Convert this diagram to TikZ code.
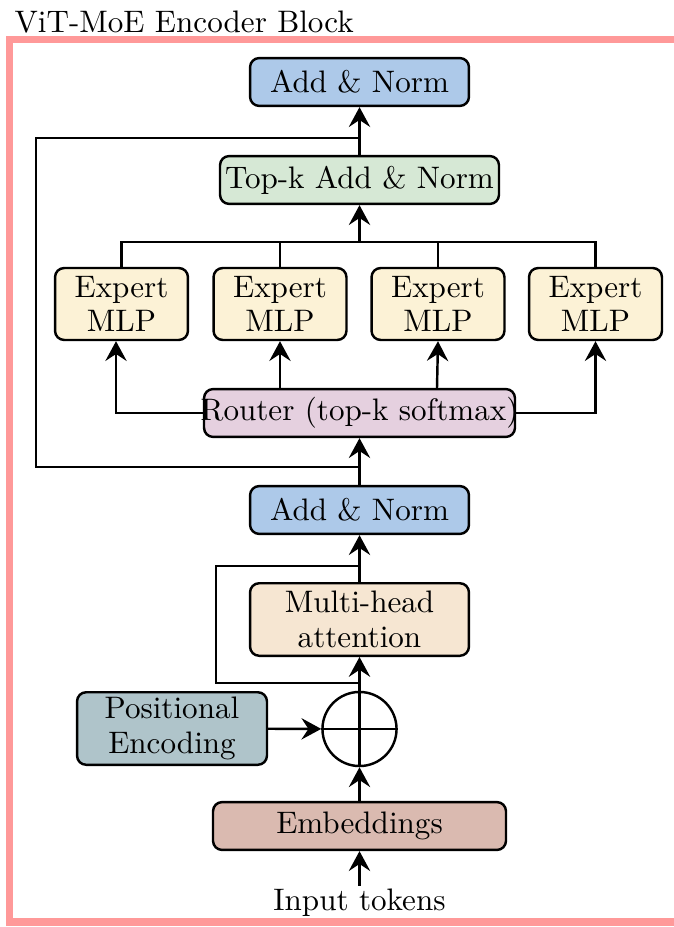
\documentclass[tikz,border=0pt]{standalone}
\usetikzlibrary{arrows.meta,calc}
\definecolor{normblue}{HTML}{ADC9E9}
\definecolor{topkgreen}{HTML}{D6E8D5}
\definecolor{expertyellow}{HTML}{FCF2D6}
\definecolor{routerpink}{HTML}{E5D0DF}
\definecolor{attnbeige}{HTML}{F6E6D2}
\definecolor{posteal}{HTML}{AFC4CA}
\definecolor{embedrose}{HTML}{DABAB0}
\definecolor{framepink}{HTML}{FF9999}
\begin{document}
\begin{tikzpicture}[x=0.328pt,y=-0.328pt,
  block/.style={draw=black,thick,rounded corners=3pt,align=center,inner sep=1pt,
    font=\fontsize{10.2}{11.3}\selectfont},
  onerow/.style={block,minimum height=15.7pt},
  tworow/.style={block,minimum height=23.8pt},
  link/.style={thick,draw=black},
  arr/.style={link,-{Stealth[length=6.5pt,width=7pt,inset=2.3pt]}}]
\useasboundingbox (0,0) rectangle (673,927);
% outer frame and its title
\draw[framepink,line width=2.6pt] (9.5,39.5) rectangle (690,922);
\node[anchor=south west,inner sep=0pt,font=\fontsize{10.2}{12}\selectfont] (title) at (14,34) {ViT-MoE Encoder Block};
% blocks
\node[onerow,fill=normblue,minimum width=71.8pt] (an2) at (359.5,82) {Add \& Norm};
\node[onerow,fill=topkgreen,minimum width=91.5pt] (topk) at (359.5,180) {Top-k Add \& Norm};
\node[tworow,fill=expertyellow,minimum width=43.6pt,minimum height=23.6pt] (e1) at (121.5,304) {Expert\\MLP};
\node[tworow,fill=expertyellow,minimum width=43.6pt,minimum height=23.6pt] (e2) at (280,304) {Expert\\MLP};
\node[tworow,fill=expertyellow,minimum width=43.6pt,minimum height=23.6pt] (e3) at (438,304) {Expert\\MLP};
\node[tworow,fill=expertyellow,minimum width=43.6pt,minimum height=23.6pt] (e4) at (595.5,304) {Expert\\MLP};
\node[onerow,fill=routerpink,inner xsep=0pt] (router) at (359.5,413) {\makebox[102pt][c]{Router (top-k softmax)}};
\node[onerow,fill=normblue,minimum width=71.8pt] (an1) at (359.5,510) {Add \& Norm};
\node[tworow,fill=attnbeige,minimum width=71.8pt] (mha) at (359.5,619.5) {Multi-head\\attention};
\node[tworow,fill=posteal,minimum width=62.3pt] (pos) at (172,728.5) {Positional\\Encoding};
\node[circle,draw=black,thick,minimum size=24.3pt,inner sep=0pt] (sum) at (359.5,729) {};
\draw[link] (sum.north) -- (sum.south) (sum.west) -- (sum.east);
\node[onerow,fill=embedrose,minimum width=96.1pt] (emb) at (359.5,826) {Embeddings};
\node[inner sep=1pt,font=\fontsize{10.2}{12}\selectfont] (inp) at (359.5,903) {Input tokens};
% junction points of the residual paths
\coordinate (j1) at (359.5,683);
\coordinate (j2) at (359.5,566);
\coordinate (j3) at (359.5,467);
\coordinate (j4) at (359.5,138);
\coordinate (j5) at (359.5,242);
% main flow
\draw[arr] (inp) -- (emb);
\draw[arr] (emb) -- (sum);
\draw[arr] (pos) -- (sum);
\draw[arr] (sum) -- (mha);
\draw[arr] (mha) -- (an1);
\draw[arr] (an1) -- (router);
\draw[arr] (j5) -- (topk);
\draw[arr] (topk) -- (an2);
% residual connections
\draw[link] (j1) -- ++(-143.5,0) |- (j2);
\draw[link] (j3) -- ++(-323.5,0) |- (j4);
% router to experts
\draw[arr] (router.west) -| ([xshift=-1.8pt]e1.south);
\draw[arr] (router.north -| e2.south) -- (e2.south);
\draw[arr] ([xshift=-0.33pt]router.north -| e3.south) -- (e3.south);
\draw[arr] (router.east) -| (e4.south);
% experts merged into top-k combine
\draw[link] (e1.north) |- (e4.north |- j5) -- (e4.north);
\draw[link] (e2.north) -- (e2.north |- j5);
\draw[link] (e3.north) -- (e3.north |- j5);
\end{tikzpicture}
\end{document}
